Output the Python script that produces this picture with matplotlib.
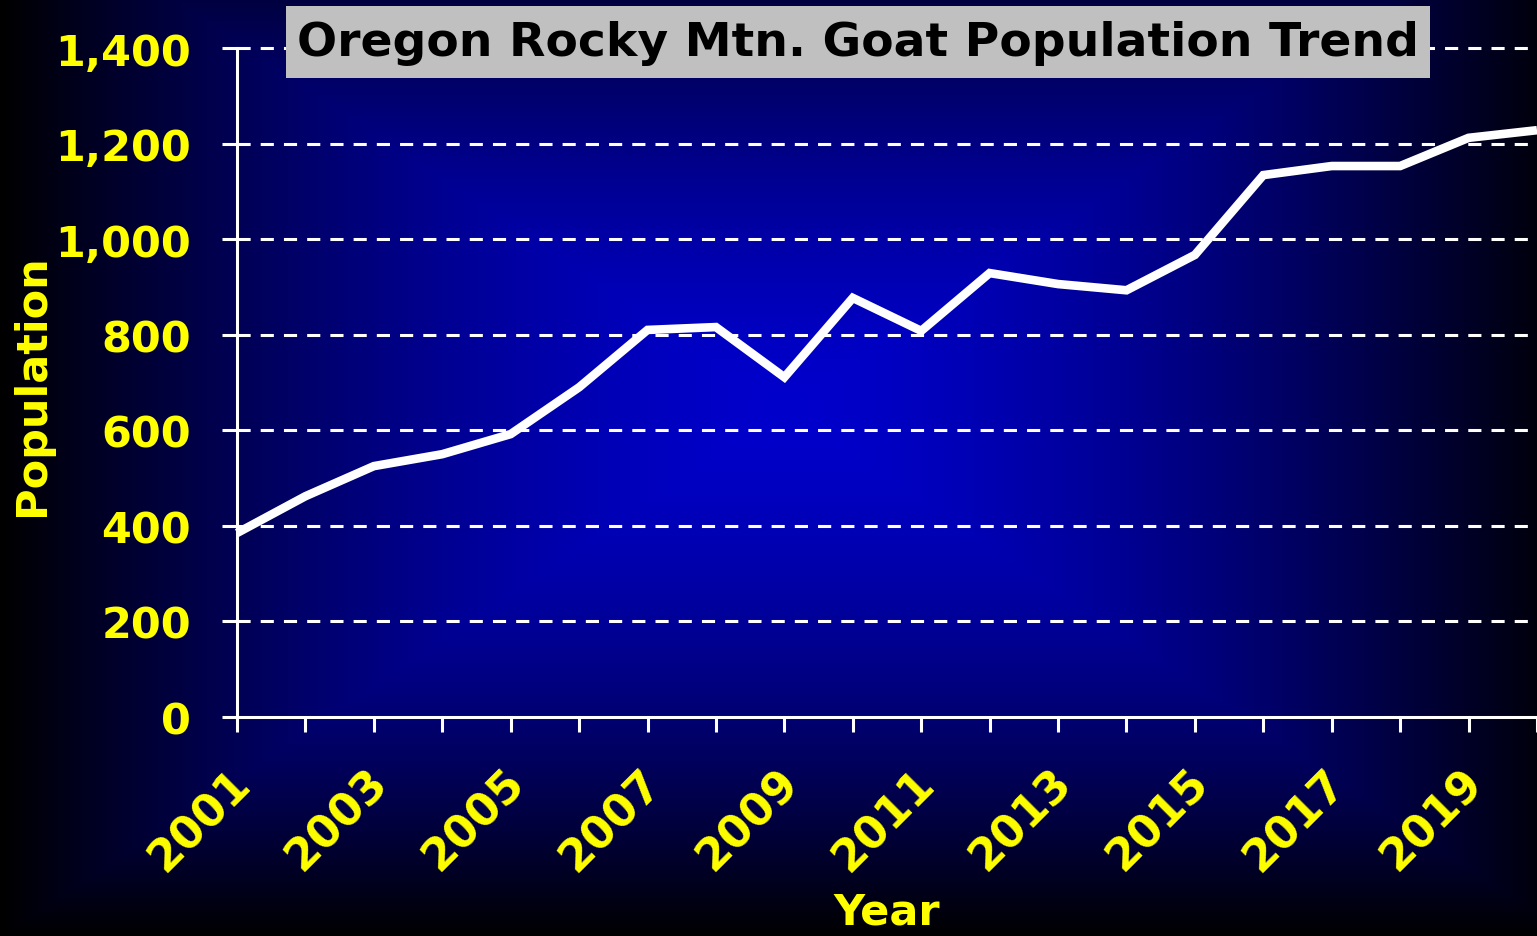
import numpy as np
import matplotlib
matplotlib.use("Agg")
import matplotlib.pyplot as plt
import matplotlib.transforms as mtransforms
from matplotlib.patches import Rectangle
from matplotlib.ticker import FuncFormatter

# datos
years = [2001, 2002, 2003, 2004, 2005, 2006, 2007, 2008, 2009, 2010,
         2011, 2012, 2013, 2014, 2015, 2016, 2017, 2018, 2019, 2020]
population = [385, 462, 525, 550, 592, 690, 810, 816, 711, 877,
              808, 929, 906, 893, 967, 1134, 1153, 1153, 1212, 1228]
y_ticks = [0, 200, 400, 600, 800, 1000, 1200, 1400]
x_label_years = [2001, 2003, 2005, 2007, 2009, 2011, 2013, 2015, 2017, 2019]

W, H = 1537, 937
plt.rcParams['font.family'] = ['DejaVu Sans']
plt.rcParams['font.weight'] = 'bold'

fig = plt.figure(figsize=(W / 100, H / 100), dpi=100)

# fondo degradado rectangular (azul en el centro, negro en los bordes)
bg = fig.add_axes([0, 0, 1, 1])
xx = np.arange(W)
yy = np.arange(H)
cx, cy = 785, 410
tx = np.abs(xx - cx) / max(cx, W - cx)
ty = np.abs(yy - cy) / max(cy, H - cy)
t = np.maximum(tx[None, :], ty[:, None])
t = np.clip(t, 0, 1)
img = np.zeros((H, W, 3))
img[:, :, 2] = (1 - t ** 1.5) * 0.8
bg.imshow(img, aspect='auto', extent=[0, W, H, 0])
bg.axis('off')

ax = fig.add_axes([237 / W, (H - 718) / H, (W - 237) / W, (718 - 49) / H])
ax.set_facecolor('none')

ax.plot(years, population, color='white', lw=6.2, solid_joinstyle='miter',
        solid_capstyle='butt', zorder=3, clip_on=False)

ax.set_xlim(2001, 2020)
ax.set_ylim(0, 1400)
ax.set_yticks(y_ticks)
ax.yaxis.set_major_formatter(FuncFormatter(lambda v, p: f"{int(v):,}"))
ax.set_xticks(years)
ax.set_xticklabels([str(y) if y in x_label_years else "" for y in years],
                   rotation=45, ha='right', rotation_mode='anchor')

for v in y_ticks[1:]:
    ax.axhline(v, color='white', lw=2.2, linestyle=(0, (4.3, 3.3)), zorder=1,
               clip_on=False)

for s in ['top', 'right']:
    ax.spines[s].set_visible(False)
for s in ['left', 'bottom']:
    ax.spines[s].set_color('white')
    ax.spines[s].set_linewidth(2.2)

ax.tick_params(axis='y', colors='white', labelcolor='#FFFF00', labelsize=31,
               length=11, width=2.2, pad=22)
ax.tick_params(axis='x', colors='white', labelcolor='#FFFF00', labelsize=32,
               length=11, width=2.2, pad=16)
shift = mtransforms.ScaledTranslation(-8 / 100, -6 / 100, fig.dpi_scale_trans)
for lab in ax.get_xticklabels():
    lab.set_transform(lab.get_transform() + shift)
for lab in ax.get_yticklabels() + ax.get_xticklabels():
    lab.set_fontweight('bold')

fig.text(887 / W, 1 - 913 / H, "Year", color='#FFFF00', fontsize=31,
         fontweight='bold', ha='center', va='center')
fig.text(32 / W, 1 - 385 / H, "Population", color='#FFFF00', fontsize=31,
         fontweight='bold', ha='center', va='center', rotation=90)

# titulo con caja gris
fig.patches.append(Rectangle((286 / W, 1 - 79 / H), (1430 - 286) / W, 72 / H,
                             transform=fig.transFigure, facecolor='#C0C0C0',
                             edgecolor='none', zorder=5))
fig.text(858 / W, 1 - 44 / H, "Oregon Rocky Mtn. Goat Population Trend",
         color='black', fontsize=34, fontweight='bold', ha='center',
         va='center', zorder=6)

fig.savefig("out.png", dpi=100)
